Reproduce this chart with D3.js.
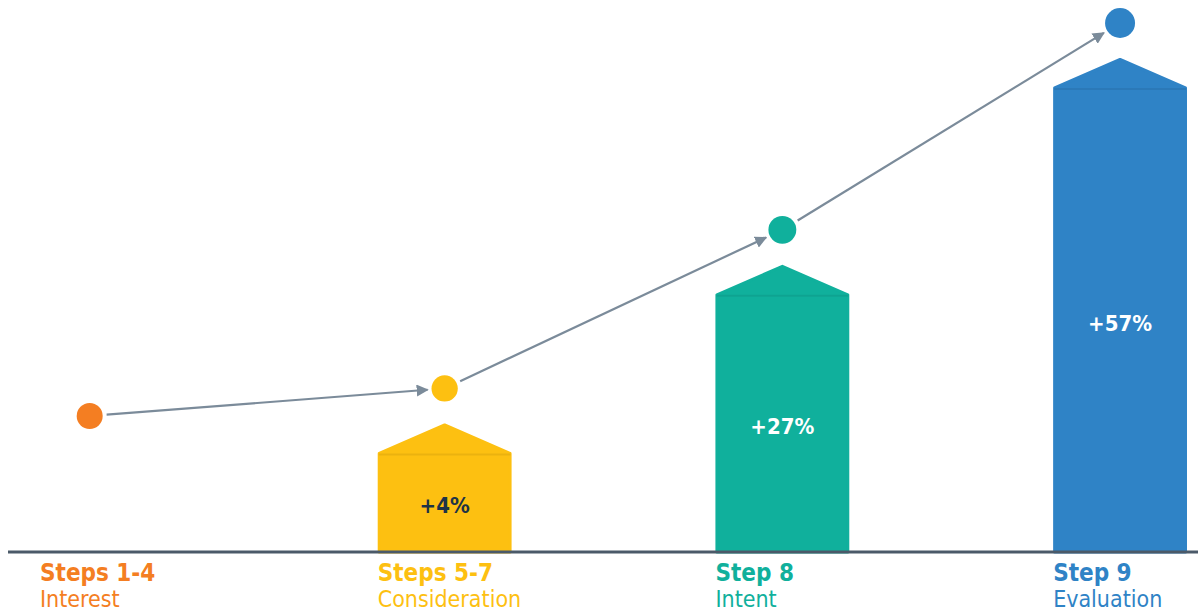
<!DOCTYPE html>
<html>
<head>
<meta charset="utf-8">
<script src="https://cdn.jsdelivr.net/npm/d3@7"></script>
<style>
  html, body { margin: 0; padding: 0; background: #ffffff; }
  svg { display: block; }
  text { font-family: "DejaVu Sans Condensed", "DejaVu Sans", sans-serif; font-stretch: condensed; }
</style>
</head>
<body>
<svg id="chart" width="1198" height="613"></svg>
<script>
// ---- data ----
const categories = ["Steps 1-4", "Steps 5-7", "Step 8", "Step 9"];
const stages = ["Interest", "Consideration", "Intent", "Evaluation"];
const gains = [0, 4, 27, 57];            // % uplift per stage
const gainLabels = ["", "+4%", "+27%", "+57%"];
const colors = ["#F47E22", "#FDC011", "#10B09C", "#2F83C6"];
const valueTextColors = ["#1E3346", "#1E3346", "#ffffff", "#ffffff"];

const data = categories.map((c, i) => ({
  cat: c, stage: stages[i], gain: gains[i], label: gainLabels[i],
  color: colors[i], textColor: valueTextColors[i]
}));

// ---- layout ----
const W = 1198, H = 613;
const baseY = 552;
const svg = d3.select("#chart");

const x = d3.scaleBand().domain(categories).range([40, 1187]).paddingInner(0.6036).paddingOuter(0);
const y = d3.scaleLinear().domain([0, 57]).range([481, 88]);
const rScale = d3.scaleLinear().domain([0, 57]).range([13, 15]);
const roof = 30;       // roof height of house-shaped bars
const dotLift = 65;    // circle sits above bar shoulder

// arrow marker
svg.append("defs").append("marker")
  .attr("id", "arrow")
  .attr("viewBox", "0 0 10 10")
  .attr("refX", 9).attr("refY", 5)
  .attr("markerWidth", 5.5).attr("markerHeight", 5.5)
  .attr("orient", "auto")
  .append("path").attr("d", "M0,0 L10,5 L0,10 z").attr("fill", "#7B8B9A");

// bars (house shapes)
const bars = data.filter(d => d.gain > 0);
const g = svg.append("g");
g.selectAll("path.bar").data(bars).join("path")
  .attr("class", "bar")
  .attr("d", d => {
    const l = x(d.cat) + 1.5, r = x(d.cat) + x.bandwidth() - 1.5;
    const cx = x(d.cat) + x.bandwidth() / 2;
    const s = y(d.gain);
    return `M${l},${baseY} L${l},${s} L${cx},${s - roof + 1.5} L${r},${s} L${r},${baseY} Z`;
  })
  .attr("fill", d => d.color)
  .attr("stroke", d => d.color)
  .attr("stroke-width", 3)
  .attr("stroke-linejoin", "round");

// subtle shoulder line
g.selectAll("line.shoulder").data(bars).join("line")
  .attr("class", "shoulder")
  .attr("x1", d => x(d.cat) + 1).attr("x2", d => x(d.cat) + x.bandwidth() - 1)
  .attr("y1", d => y(d.gain) + 1).attr("y2", d => y(d.gain) + 1)
  .attr("stroke", "rgba(0,0,0,0.07)").attr("stroke-width", 2);

// value labels inside bars
g.selectAll("text.val").data(bars).join("text")
  .attr("class", "val")
  .attr("x", d => x(d.cat) + x.bandwidth() / 2)
  .attr("y", d => (y(d.gain) + baseY) / 2 + 3)
  .attr("text-anchor", "middle")
  .attr("dominant-baseline", "central")
  .attr("font-size", 22)
  .attr("font-weight", "bold")
  .attr("fill", d => d.textColor)
  .text(d => d.label);

// baseline axis
svg.append("line")
  .attr("x1", 8).attr("x2", W).attr("y1", baseY).attr("y2", baseY)
  .attr("stroke", "#4B5A69").attr("stroke-width", 3);

// category labels
const lab = svg.append("g").selectAll("g").data(data).join("g")
  .attr("transform", d => `translate(${x(d.cat)},0)`);
const titles = lab.append("text")
  .attr("x", 0).attr("y", 581)
  .attr("font-size", 24).attr("font-weight", "bold")
  .attr("fill", d => d.color)
  .text(d => d.cat);
lab.append("text")
  .attr("x", 0).attr("y", 607)
  .attr("font-size", 23)
  .attr("fill", d => d.color)
  .text(d => d.stage);

// dot positions: above the bar centre, or centred over the title when no bar
const dots = data.map((d, i) => {
  let cx;
  if (d.gain > 0) cx = x(d.cat) + x.bandwidth() / 2;
  else { const bb = titles.nodes()[i].getBBox(); cx = x(d.cat) + bb.x + bb.width / 2 - 8; }
  return { cx, cy: y(d.gain) - dotLift, r: rScale(d.gain), color: d.color };
});

// connecting arrows
const gap = 4;
const segs = d3.pairs(dots).map(([a, b]) => {
  const dx = b.cx - a.cx, dy = b.cy - a.cy, L = Math.hypot(dx, dy);
  const ux = dx / L, uy = dy / L;
  return {
    x1: a.cx + ux * (a.r + gap), y1: a.cy + uy * (a.r + gap),
    x2: b.cx - ux * (b.r + gap), y2: b.cy - uy * (b.r + gap)
  };
});
svg.append("g").selectAll("line").data(segs).join("line")
  .attr("x1", d => d.x1).attr("y1", d => d.y1)
  .attr("x2", d => d.x2).attr("y2", d => d.y2)
  .attr("stroke", "#7B8B9A").attr("stroke-width", 2.2)
  .attr("marker-end", "url(#arrow)");

// dots
svg.append("g").selectAll("circle").data(dots).join("circle")
  .attr("cx", d => d.cx).attr("cy", d => d.cy).attr("r", d => d.r)
  .attr("fill", d => d.color);
</script>
</body>
</html>
